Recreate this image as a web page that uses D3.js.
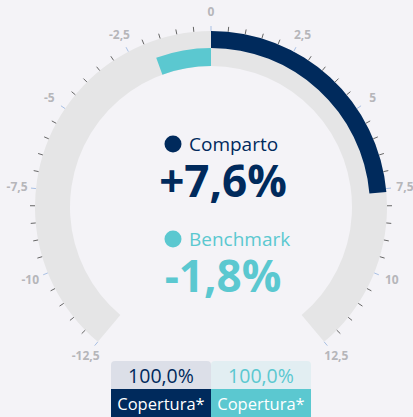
<!DOCTYPE html>
<html>
<head>
<meta charset="utf-8">
<style>
    body { margin: 0; background: #f4f3f7; }
    text { font-family: "Open Sans", sans-serif; }
    .tick-label { fill: #b6b6ba; font-size: 12px; font-weight: bold; }
</style>
</head>
<body>
<script src="https://d3js.org/d3.v7.min.js"></script>
<script>
// data
var seriesNames = ["Comparto", "Benchmark"];
var seriesValues = [7.6, -1.8];
var seriesLabels = ["+7,6%", "-1,8%"];
var coverageValues = ["100,0%", "100,0%"];
var coverageLabels = ["Copertura*", "Copertura*"];
var majorTicks = [-12.5, -10, -7.5, -5, -2.5, 0, 2.5, 5, 7.5, 10, 12.5];
var tickLabels = ["-12,5", "-10", "-7,5", "-5", "-2,5", "0", "2,5", "5", "7,5", "10", "12,5"];
var colors = ["#002a5c", "#5bc8d0"];

var width = 413, height = 417;
var cx = 211, cy = 207;
var rOuter = 176, rMid = 159, rInner = 141;

var svg = d3.select("body").append("svg")
    .attr("width", width)
    .attr("height", height);

var angle = d3.scaleLinear()
    .domain([-12.5, 12.5])
    .range([-140 * Math.PI / 180, 140 * Math.PI / 180]);

var g = svg.append("g").attr("transform", "translate(" + cx + "," + cy + ")");

// background band
g.append("path")
    .attr("d", d3.arc()({ innerRadius: rInner, outerRadius: rOuter, startAngle: angle(-12.5), endAngle: angle(12.5) }))
    .attr("fill", "#e5e5e6");

// series bands (outer = comparto, inner = benchmark)
var bands = [[rMid, rOuter], [rInner, rMid]];
seriesValues.forEach(function(v, i) {
    var a0 = Math.min(angle(0), angle(v)), a1 = Math.max(angle(0), angle(v));
    g.append("path")
        .attr("d", d3.arc()({ innerRadius: bands[i][0], outerRadius: bands[i][1], startAngle: a0, endAngle: a1 }))
        .attr("fill", colors[i]);
});

// ticks every 0.5
var minor = d3.range(-12.5, 12.51, 0.5);
g.selectAll(".minor")
    .data(minor)
    .enter().append("line")
    .attr("x1", function(d) { return rOuter * Math.sin(angle(d)); })
    .attr("y1", function(d) { return -rOuter * Math.cos(angle(d)); })
    .attr("x2", function(d) { return (rOuter + 5) * Math.sin(angle(d)); })
    .attr("y2", function(d) { return -(rOuter + 5) * Math.cos(angle(d)); })
    .attr("stroke", function(d) { return majorTicks.indexOf(d) >= 0 ? "#a9c0e4" : "#666"; })
    .attr("stroke-width", 1);

// labels
g.selectAll(".tick-label")
    .data(majorTicks)
    .enter().append("text")
    .attr("class", "tick-label")
    .attr("x", function(d) { return 195 * Math.sin(angle(d)); })
    .attr("y", function(d) { return -195 * Math.cos(angle(d)) + 4; })
    .attr("text-anchor", "middle")
    .text(function(d, i) { return tickLabels[i]; });

// center legend
var rows = [{ dotY: 144, nameY: 151, valY: 197 }, { dotY: 239, nameY: 246, valY: 292 }];
seriesNames.forEach(function(name, i) {
    svg.append("circle")
        .attr("cx", 173).attr("cy", rows[i].dotY).attr("r", 8.5)
        .attr("fill", colors[i]);
    svg.append("text")
        .attr("x", 189).attr("y", rows[i].nameY)
        .attr("fill", colors[i])
        .attr("font-size", 19)
        .text(name);
    svg.append("text")
        .attr("x", 223).attr("y", rows[i].valY)
        .attr("text-anchor", "middle")
        .attr("fill", colors[i])
        .attr("font-size", 44)
        .attr("font-weight", "bold")
        .text(seriesLabels[i]);
});

// coverage boxes
var boxX = d3.scaleBand().domain([0, 1]).range([111, 311]);
var topFill = ["#dcdfe8", "#e2eef2"];
coverageValues.forEach(function(v, i) {
    var x = boxX(i), w = boxX.bandwidth();
    svg.append("path")
        .attr("d", "M" + x + ",389V365a4,4 0 0 1 4,-4H" + (x + w - 4) + "a4,4 0 0 1 4,4V389Z")
        .attr("fill", topFill[i]);
    svg.append("rect")
        .attr("x", x).attr("y", 389).attr("width", w).attr("height", 28)
        .attr("fill", colors[i]);
    svg.append("text")
        .attr("x", x + w / 2).attr("y", 382.5)
        .attr("text-anchor", "middle")
        .attr("fill", colors[i])
        .attr("font-size", 19.5)
        .text(v);
    svg.append("text")
        .attr("x", x + w / 2).attr("y", 410)
        .attr("text-anchor", "middle")
        .attr("fill", "#fff")
        .attr("font-size", 16.5)
        .text(coverageLabels[i]);
});
</script>
</body>
</html>
